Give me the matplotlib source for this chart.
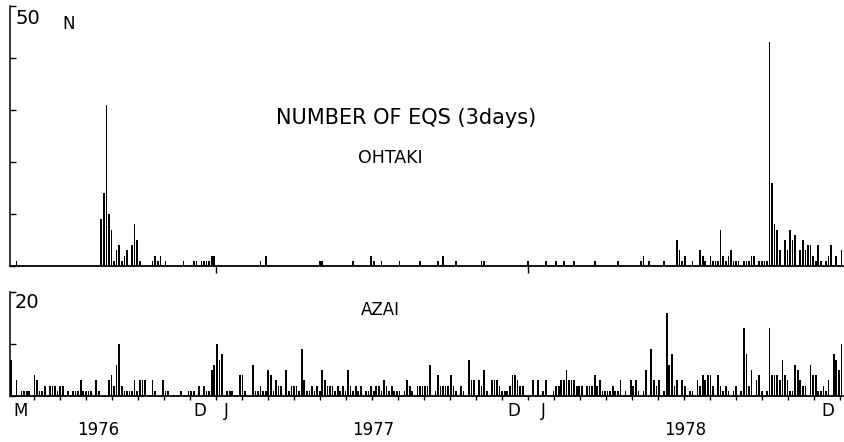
import numpy as np
import matplotlib.pyplot as plt

# counts per 3-day bin; bin 0 = first bin at left (May 1976)
ohtaki_bin = [2, 35, 36, 37, 38, 39, 40, 41, 42, 43, 44, 45, 47, 48, 49, 50,
              55, 56, 57, 58, 60, 67, 71, 72, 74, 75, 76, 77, 78, 79, 97, 99,
              120, 121, 133, 140, 141, 144, 151, 159, 166, 168, 173, 183, 184,
              201, 208, 212, 215, 219, 227, 236, 245, 246, 248, 254,
              259, 260, 261, 262, 265, 268, 269, 270, 272, 273, 274, 275,
              276, 277, 278, 279, 280, 281, 282, 283, 285, 286, 287, 288, 289,
              291, 292, 293, 294, 295, 296, 297, 298, 299, 301, 302, 303, 304,
              305, 307, 308, 309, 310, 311, 312, 313, 314, 315, 317, 318, 319,
              321, 323]
ohtaki_n = [1, 9, 14, 31, 10, 7, 1, 3, 4, 1, 2, 3, 4, 8, 5, 1,
            1, 2, 1, 2, 1, 1, 1, 1, 1, 1, 1, 1, 2, 2, 1, 2,
            1, 1, 1, 2, 1, 1, 1, 1, 1, 2, 1, 1, 1,
            1, 1, 1, 1, 1, 1, 1, 1, 2, 1, 1,
            5, 3, 1, 2, 1, 3, 2, 1, 2, 1, 1, 1,
            7, 2, 1, 2, 3, 1, 1, 1, 1, 1, 1, 2, 2,
            1, 1, 1, 1, 43, 16, 8, 7, 3, 5, 3, 7, 5,
            6, 3, 5, 3, 4, 4, 2, 1, 4, 1, 1, 2, 4,
            2, 3]

azai_n = [7, 0, 3, 0, 1, 1, 1, 1, 0, 4,
          3, 1, 1, 2, 0, 2, 2, 2, 1, 2,
          2, 0, 1, 0, 1, 1, 1, 3, 1, 1,
          1, 1, 0, 3, 1, 0, 0, 0, 3, 4,
          2, 6, 10, 2, 1, 1, 1, 1, 3, 1,
          3, 3, 3, 0, 0, 3, 1, 0, 0, 3,
          1, 1, 0, 0, 0, 0, 1, 0, 0, 1,
          1, 1, 0, 2, 0, 2, 1, 1, 5, 6,
          10, 7, 8, 0, 1, 1, 1, 0, 0, 4,
          4, 1, 0, 0, 6, 1, 1, 2, 1, 1,
          5, 4, 1, 3, 2, 2, 0, 5, 1, 2,
          2, 2, 1, 9, 3, 1, 1, 2, 1, 2,
          1, 5, 3, 2, 2, 2, 1, 2, 1, 2,
          1, 5, 2, 1, 2, 1, 2, 0, 1, 1,
          2, 1, 2, 2, 1, 3, 2, 1, 2, 1,
          1, 1, 0, 1, 3, 2, 1, 0, 2, 2,
          2, 2, 2, 6, 0, 1, 4, 2, 2, 2,
          2, 4, 2, 1, 0, 2, 1, 0, 7, 3,
          3, 0, 3, 2, 5, 1, 0, 3, 3, 3,
          2, 1, 1, 1, 2, 4, 4, 3, 2, 2,
          0, 0, 0, 3, 0, 3, 0, 1, 3, 0,
          0, 1, 2, 2, 3, 3, 5, 3, 3, 3,
          2, 2, 2, 0, 2, 2, 2, 4, 2, 3,
          1, 1, 1, 1, 2, 1, 1, 3, 0, 1,
          0, 3, 2, 3, 1, 0, 1, 5, 0, 9,
          3, 2, 3, 0, 1, 16, 6, 8, 2, 3,
          0, 3, 2, 0, 1, 1, 0, 3, 2, 4,
          3, 4, 4, 2, 0, 4, 2, 1, 2, 1,
          0, 1, 2, 0, 1, 13, 8, 2, 5, 0,
          3, 4, 1, 0, 1, 13, 4, 4, 4, 3,
          7, 4, 3, 1, 1, 6, 5, 3, 2, 2,
          0, 6, 4, 4, 1, 1, 2, 1, 3, 0,
          8, 7, 5, 10]

month_labels = ['M', 'D', 'J', 'D', 'J', 'D']
month_pos = [3.8, 73.4, 83.5, 195.4, 207.0, 317.8]
year_labels = ['1976', '1977', '1978']
year_pos = [33.7, 140.7, 262.1]
year_starts = [79.7, 201.0]
month_step = 10.11

W, H = 844, 442
fig = plt.figure(figsize=(W / 100, H / 100), dpi=100)


def px(x0, y0, x1, y1):
    return [x0 / W, 1 - y1 / H, (x1 - x0) / W, (y1 - y0) / H]


xlim = (-0.5, 323.6)
ax1 = fig.add_axes(px(10, 6, 843, 266))
ax2 = fig.add_axes(px(10, 292, 843, 396))

ax1.bar(ohtaki_bin, ohtaki_n, width=0.65, color='black', linewidth=0)
ax2.bar(np.arange(len(azai_n)), azai_n, width=0.65, color='black', linewidth=0)

ax1.set_ylim(0, 50)
ax2.set_ylim(0, 20)
for ax in (ax1, ax2):
    ax.set_xlim(*xlim)
    ax.spines['top'].set_visible(False)
    ax.spines['right'].set_visible(False)
    ax.spines['left'].set_linewidth(1.1)
    ax.spines['bottom'].set_linewidth(1.3)
    ax.tick_params(axis='y', direction='in', length=4, width=1, labelleft=False)
    ax.set_facecolor('none')

ax1.set_yticks([0, 10, 20, 30, 40, 50])
ax2.set_yticks([0, 10, 20])

# month ticks (bottom) and year ticks (top)
months = year_starts[0] + month_step * np.arange(-7, 25)
ax2.set_xticks(months)
ax2.tick_params(axis='x', direction='out', length=3, width=1, labelbottom=False)
ax1.set_xticks(year_starts)
ax1.tick_params(axis='x', direction='out', length=5, width=1, labelbottom=False)

# y labels inside the bracket
ax1.text(0.007, 0.99, '50', transform=ax1.transAxes, fontsize=14, va='top', ha='left')
ax1.text(0.063, 0.965, 'N', transform=ax1.transAxes, fontsize=12, va='top', ha='left')
ax2.text(0.005, 0.995, '20', transform=ax2.transAxes, fontsize=14, va='top', ha='left')

ax1.text(0.475, 0.57, 'NUMBER OF EQS (3days)', transform=ax1.transAxes,
         fontsize=15, ha='center', va='center')
ax1.text(0.457, 0.415, 'OHTAKI', transform=ax1.transAxes,
         fontsize=12.5, ha='center', va='center')
ax2.text(0.445, 0.83, 'AZAI', transform=ax2.transAxes,
         fontsize=12, ha='center', va='center')

for lab, pos in zip(month_labels, month_pos):
    ax2.annotate(lab, xy=(pos, 0), xycoords=('data', 'axes fraction'),
                 xytext=(0, -15), textcoords='offset pixels',
                 ha='center', va='center', fontsize=12)
for lab, pos in zip(year_labels, year_pos):
    ax2.annotate(lab, xy=(pos, 0), xycoords=('data', 'axes fraction'),
                 xytext=(0, -34), textcoords='offset pixels',
                 ha='center', va='center', fontsize=12)

fig.savefig('out.png', dpi=100)
